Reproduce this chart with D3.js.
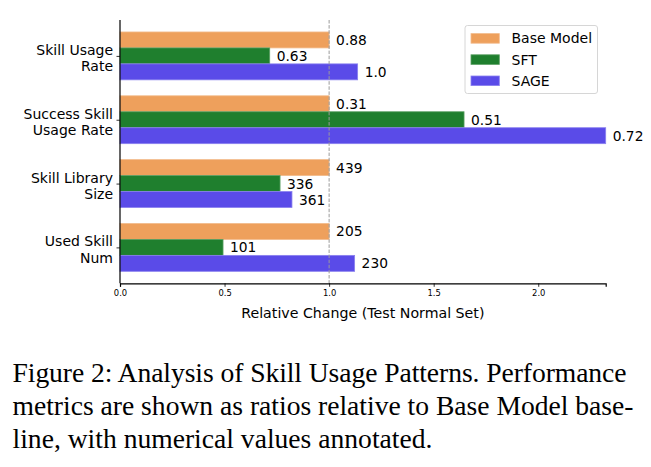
<!DOCTYPE html>
<html>
<head>
<meta charset="utf-8">
<script src="https://cdn.jsdelivr.net/npm/d3@7"></script>
<style>
  html, body { margin: 0; padding: 0; background: #fff; }
  svg { display: block; }
</style>
</head>
<body>
<svg id="chart" width="651" height="467"></svg>
<script>

// metric names (two-line tick labels) and the raw values printed on the bars
const categories = [
  ["Skill Usage", "Rate"],
  ["Success Skill", "Usage Rate"],
  ["Skill Library", "Size"],
  ["Used Skill", "Num"]
]
const metricKind = ["rate", "rate", "count", "count"]

const baseValues = [0.88, 0.31, 439, 205]
const sftValues = [0.63, 0.51, 336, 101]
const sageValues = [1.0, 0.72, 361, 230]

const seriesNames = ["Base Model", "SFT", "SAGE"]
const seriesColors = ["#eea05c", "#1f7f2e", "#5a4be8"]
const seriesEdges = ["#f2bb8c", "#5a9f63", "#8a80ef"]

const xTicks = [0.0, 0.5, 1.0, 1.5, 2.0]

const captionLines = [
  "Figure 2: Analysis of Skill Usage Patterns. Performance",
  "metrics are shown as ratios relative to Base Model base-",
  "line, with numerical values annotated."
]

const svg = d3.select("#chart")

const margin = { left: 120, top: 20, right: 605.7, bottom: 283.3 }

// each bar is shown as its ratio to the base model value
const seriesValues = [baseValues, sftValues, sageValues]
const ratios = seriesValues.map((vals) => vals.map((v, i) => v / baseValues[i]))
const xMax = d3.max(ratios.flat())

const x = d3.scaleLinear()
.domain([0, xMax])
.range([margin.left, margin.right])

const y = d3.scaleLinear()
.domain([-0.5625, 3.5625])
.range([margin.top, margin.bottom])

const barH = 0.25
const offsets = [-0.25, 0, 0.25]

const fmt = (v, i) => (metricKind[i] == "rate" && Number.isInteger(v)) ? v.toFixed(1) : String(v)

const chartFont = "DejaVu Sans, sans-serif"

const plot = svg.append("g")

seriesValues.forEach((vals, s) => {

  plot.selectAll(".bar" + s)
  .data(vals)
  .enter()
  .append("rect")
  .attr("x", x(0))
  .attr("y", (d, i) => y(i + offsets[s] - barH / 2))
  .attr("width", (d, i) => x(ratios[s][i]) - x(0))
  .attr("height", (d, i) => y(barH) - y(0))
  .attr("fill", seriesColors[s])
  .attr("stroke", seriesEdges[s])
  .attr("stroke-width", 0.8)

  plot.selectAll(".lab" + s)
  .data(vals)
  .enter()
  .append("text")
  .attr("x", (d, i) => x(ratios[s][i]) + 7)
  .attr("y", (d, i) => y(i + offsets[s]))
  .attr("dominant-baseline", "central")
  .attr("font-family", chartFont)
  .attr("font-size", 13.8)
  .attr("fill", "#000")
  .text((d, i) => fmt(d, i))

})

// reference line at ratio 1
plot.append("line")
.attr("x1", x(1))
.attr("x2", x(1))
.attr("y1", margin.top)
.attr("y2", margin.bottom)
.attr("stroke", "#9a9a9a")
.attr("stroke-width", 1)
.attr("stroke-dasharray", "3.5,1.6")

// axes
const xAxis = d3.axisBottom(x)
.tickValues(xTicks)
.tickFormat(d3.format(".1f"))
.tickSize(3.5)
.tickPadding(3)

const gx = svg.append("g")
.attr("transform", `translate(0,${margin.bottom})`)
.call(xAxis)

gx.select(".domain").attr("stroke", "#000").attr("stroke-width", 1.2)
gx.selectAll(".tick line").attr("stroke", "#000").attr("stroke-width", 0.8)
gx.selectAll(".tick text")
.attr("font-family", chartFont)
.attr("font-size", 8.4)
.attr("fill", "#000")

const gy = svg.append("g")
.attr("transform", `translate(${margin.left},0)`)
.call(d3.axisLeft(y).tickValues(d3.range(categories.length)).tickSize(3.5).tickFormat(""))

gy.select(".domain").attr("stroke", "#000").attr("stroke-width", 1.2)
.attr("d", `M0,${margin.top}V${margin.bottom}`)
gy.selectAll(".tick line").attr("stroke", "#000").attr("stroke-width", 0.8)

const yLabels = svg.append("g")
.attr("font-family", chartFont)
.attr("font-size", 14)
.attr("text-anchor", "end")

categories.forEach((lines, i) => {
  lines.forEach((line, k) => {
    yLabels.append("text")
    .attr("x", margin.left - 7)
    .attr("y", y(i) - 6 + k * 16.2)
    .attr("dominant-baseline", "central")
    .text(line)
  })
})

svg.append("text")
.attr("x", (margin.left + margin.right) / 2)
.attr("y", 313)
.attr("text-anchor", "middle")
.attr("dominant-baseline", "central")
.attr("font-family", chartFont)
.attr("font-size", 14.2)
.text("Relative Change (Test Normal Set)")

// legend
const legend = svg.append("g")

legend.append("rect")
.attr("x", 465)
.attr("y", 25.5)
.attr("width", 132.5)
.attr("height", 68)
.attr("rx", 2.5)
.attr("fill", "#fff")
.attr("fill-opacity", 0.8)
.attr("stroke", "#d6d6d6")
.attr("stroke-width", 1)

seriesNames.forEach((name, s) => {
  const cy = 38.4 + s * 21.2
  legend.append("rect")
  .attr("x", 471)
  .attr("y", cy - 4.8)
  .attr("width", 28.3)
  .attr("height", 9.6)
  .attr("fill", seriesColors[s])
  .attr("stroke", seriesEdges[s])
  .attr("stroke-width", 0.8)
  legend.append("text")
  .attr("x", 511.5)
  .attr("y", cy)
  .attr("dominant-baseline", "central")
  .attr("font-family", chartFont)
  .attr("font-size", 14)
  .text(name)
})

// caption below the figure
const caption = svg.append("g")
.attr("font-family", "Liberation Serif, Times New Roman, serif")
.attr("font-size", 27.6)
.attr("fill", "#000")

const captionWidths = [614, 621, null]

captionLines.forEach((line, k) => {
  const t = caption.append("text")
  .attr("x", 12.5)
  .attr("y", 382 + k * 32.8)
  .text(line)
  if (captionWidths[k]) {
    t.attr("textLength", captionWidths[k]).attr("lengthAdjust", "spacing")
  }
})

</script>
</body>
</html>
